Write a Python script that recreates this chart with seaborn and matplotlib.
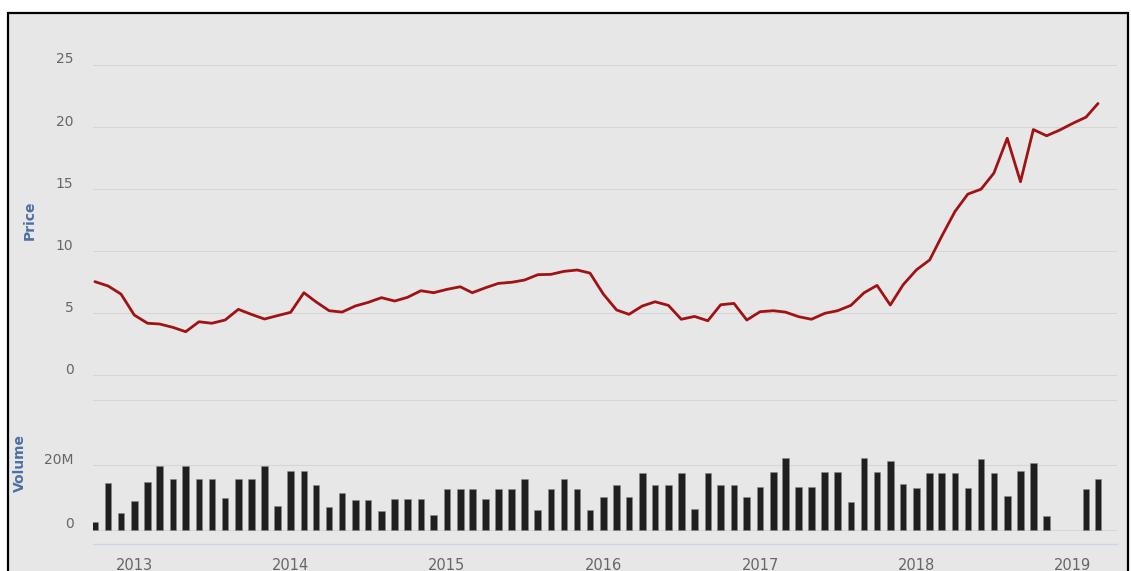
import numpy as np
import pandas as pd
import matplotlib
matplotlib.use("Agg")
import matplotlib.pyplot as plt
import matplotlib.dates as mdates
from matplotlib.patches import Rectangle
from matplotlib.transforms import ScaledTranslation
import seaborn as sns

# monthly data, Oct 2012 .. Mar 2019
months = pd.date_range("2012-10-01", periods=78, freq="MS")
price = [
    7.55, 7.2, 6.55, 4.86, 4.2, 4.14, 3.87, 3.52, 4.32, 4.2, 4.46, 5.32,
    4.92, 4.54, 4.81, 5.08, 6.66, 5.93, 5.21, 5.1, 5.59, 5.88, 6.26, 5.99,
    6.29, 6.82, 6.66, 6.93, 7.14, 6.66, 7.06, 7.41, 7.5, 7.68, 8.11, 8.14,
    8.38, 8.49, 8.24, 6.55, 5.27, 4.92, 5.59, 5.93, 5.64, 4.52, 4.75, 4.4,
    5.69, 5.8, 4.46, 5.13, 5.21, 5.1, 4.73, 4.52, 5.0, 5.21, 5.64, 6.66,
    7.25, 5.67, 7.3, 8.5, 9.3, 11.2, 13.2, 14.6, 15.0, 16.3, 19.1, 15.6,
    19.8, 19.3, 19.75, 20.3, 20.8, 21.9,
]
volume_m = [
    2.4, 14.5, 5.3, 8.9, 14.9, 19.8, 15.8, 19.8, 15.8, 15.8,
    9.8, 15.8, 15.8, 19.8, 7.3, 18.2, 18.2, 13.75, 7.0, 11.4,
    9.3, 9.3, 5.7, 9.4, 9.4, 9.4, 4.6, 12.7, 12.7, 12.7,
    9.4, 12.7, 12.7, 15.8, 6.1, 12.7, 15.8, 12.7, 6.1, 10.2,
    13.9, 10.2, 17.4, 13.9, 13.9, 17.4, 6.6, 17.4, 13.9, 13.9,
    10.2, 13.3, 17.8, 22.3, 13.3, 13.3, 17.8, 17.8, 8.5, 22.3,
    17.8, 21.1, 14.3, 13.0, 17.4, 17.4, 17.4, 13.0, 21.9, 17.4,
    10.6, 18.3, 20.7, 4.2, np.nan, np.nan, 12.7, 15.8,
]
price_ticks = [0, 5, 10, 15, 20, 25]
volume_ticks = [0, 20e6, 40e6]
volume_labels = ["0", "20M", ""]

BG = "#e7e7e7"
GRID = "#d6d6d6"
LABEL = "#666666"
TITLE = "#4d6fa3"

sns.set_style("white", {"axes.facecolor": BG, "grid.color": GRID})
plt.rcParams["font.family"] = ["DejaVu Sans"]

W, H = 1131, 571
fig = plt.figure(figsize=(W / 100, H / 100), dpi=100, facecolor="white")
fig.add_artist(Rectangle((7.5 / W, -0.1), (1127.5 - 7.5) / W, 1.1 - 12.5 / H,
                         transform=fig.transFigure, facecolor=BG,
                         edgecolor="black", lw=1.6, zorder=0))

left, width = 93 / W, (1117.3 - 93) / W
ax_p = fig.add_axes([left, 1 - 380 / H, width, 320 / H])
ax_v = fig.add_axes([left, 1 - 544 / H, width, 148 / H])

df = pd.DataFrame({"x": mdates.date2num(months), "price": price,
                   "volume": np.array(volume_m) * 1e6})
xlim = (mdates.date2num(pd.Timestamp("2013-01-01")) - 96.4,
        mdates.date2num(pd.Timestamp("2019-01-01")) + 104)

# price pane
sns.lineplot(data=df, x="x", y="price", ax=ax_p, color="#a11214", linewidth=2.0)
ax_p.set_xlim(xlim)
ax_p.set_ylim(-4.6 / 12.42, 25 + 5 / 12.42)
ax_p.set_yticks(price_ticks)
ax_p.set_yticklabels([str(t) for t in price_ticks])
ax_p.set_xticks([])
ax_p.set_xlabel("")
ax_p.set_ylabel("Price", color=TITLE, fontsize=10, fontweight="bold")
ax_p.yaxis.set_label_coords((37 - 93) / (W * width), 0.5)
ax_p.grid(axis="y", color=GRID, lw=0.8)

# volume pane
vdf = df.dropna(subset=["volume"])
sns.barplot(data=vdf, x="x", y="volume", ax=ax_v, native_scale=True,
            width=0.55, color="#1f1f1f", saturation=1, errorbar=None,
            linewidth=0.4, edgecolor="#8a8a8a")
ax_v.set_xlim(xlim)
ax_v.set_ylim(-14 * 20e6 / 65, 40e6 + 4 * 20e6 / 65)
ax_v.set_yticks(volume_ticks)
ax_v.set_yticklabels(volume_labels)
ax_v.set_xlabel("")
ax_v.set_ylabel("Volume", color=TITLE, fontsize=10, fontweight="bold")
ax_v.yaxis.set_label_coords((27 - 93) / (W * width), (544 - 463) / 148)
ax_v.grid(axis="y", color=GRID, lw=0.8)
ax_v.xaxis.set_major_locator(mdates.YearLocator())
ax_v.xaxis.set_major_formatter(mdates.DateFormatter("%Y"))

for ax in (ax_p, ax_v):
    ax.set_facecolor(BG)
    ax.set_axisbelow(True)
    for s in ax.spines.values():
        s.set_visible(False)
    ax.tick_params(axis="y", length=0, pad=14, labelcolor=LABEL, labelsize=10)
    for lab in ax.get_yticklabels():
        lab.set_transform(lab.get_transform() + ScaledTranslation(0, 0.07, fig.dpi_scale_trans))

ax_v.spines["bottom"].set_visible(True)
ax_v.spines["bottom"].set_color("#ccd6eb")
ax_v.spines["bottom"].set_linewidth(1)
ax_v.tick_params(axis="x", direction="out", length=7, width=1, color="#ccd6eb",
                 labelcolor=LABEL, labelsize=10.5, pad=3)

fig.savefig("out.png", dpi=100, facecolor="white")
